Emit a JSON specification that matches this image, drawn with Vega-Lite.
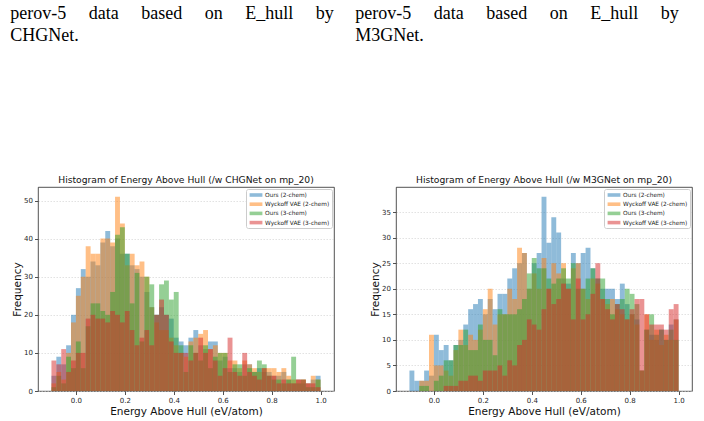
{
  "$schema": "https://vega.github.io/schema/vega-lite/v6.json",
  "background": "white",
  "padding": {"left": 10, "top": 5, "right": 0, "bottom": 0},
  "spacing": 20,
  "config": {
    "font": "DejaVu Sans",
    "view": {"stroke": "#262626", "strokeWidth": 0.8},
    "axis": {
      "domain": false,
      "tickColor": "#262626",
      "tickSize": 3.5,
      "tickWidth": 0.8,
      "labelFontSize": 7,
      "labelColor": "#262626",
      "labelPadding": 2,
      "titleFontSize": 10.5,
      "titleFontWeight": "normal",
      "titleColor": "#111111"
    },
    "axisY": {"grid": true, "gridDash": [1.5, 1.5], "gridColor": "#cfcfcf", "gridWidth": 0.6, "titlePadding": 1},
    "axisX": {"grid": false, "titlePadding": 2.5},
    "title": {"fontSize": 9.2, "fontWeight": "normal", "color": "#111111", "offset": 2},
    "legend": {
      "orient": "top-right",
      "offset": 2,
      "fillColor": "white",
      "strokeColor": "#cccccc",
      "cornerRadius": 2,
      "padding": 2,
      "labelFontSize": 5.8,
      "labelColor": "#222222",
      "labelOffset": 5,
      "symbolType": "M-1.6,-0.45H1.6V0.45H-1.6Z",
      "symbolSize": 64,
      "symbolOffset": 4,
      "symbolOpacity": 0.5,
      "symbolStrokeWidth": 0,
      "rowPadding": 2.2
    }
  },
  "datasets": {
    "chgnet": [
      {"s":"Ours (2-chem)","a":-0.10,"b":-0.08,"n":4},{"s":"Wyckoff VAE (2-chem)","a":-0.10,"b":-0.08,"n":2},{"s":"Ours (3-chem)","a":-0.10,"b":-0.08,"n":1},{"s":"Wyckoff VAE (3-chem)","a":-0.10,"b":-0.08,"n":8},
      {"s":"Ours (2-chem)","a":-0.08,"b":-0.06,"n":9},{"s":"Wyckoff VAE (2-chem)","a":-0.08,"b":-0.06,"n":5},{"s":"Ours (3-chem)","a":-0.08,"b":-0.06,"n":4},{"s":"Wyckoff VAE (3-chem)","a":-0.08,"b":-0.06,"n":7},
      {"s":"Ours (2-chem)","a":-0.06,"b":-0.04,"n":7},{"s":"Wyckoff VAE (2-chem)","a":-0.06,"b":-0.04,"n":3},{"s":"Ours (3-chem)","a":-0.06,"b":-0.04,"n":2},{"s":"Wyckoff VAE (3-chem)","a":-0.06,"b":-0.04,"n":11},
      {"s":"Ours (2-chem)","a":-0.04,"b":-0.02,"n":12},{"s":"Wyckoff VAE (2-chem)","a":-0.04,"b":-0.02,"n":10},{"s":"Ours (3-chem)","a":-0.04,"b":-0.02,"n":9},{"s":"Wyckoff VAE (3-chem)","a":-0.04,"b":-0.02,"n":5},
      {"s":"Ours (2-chem)","a":-0.02,"b":0.00,"n":20},{"s":"Wyckoff VAE (2-chem)","a":-0.02,"b":0.00,"n":18},{"s":"Ours (3-chem)","a":-0.02,"b":0.00,"n":6},{"s":"Wyckoff VAE (3-chem)","a":-0.02,"b":0.00,"n":8},
      {"s":"Ours (2-chem)","a":0.00,"b":0.02,"n":27},{"s":"Wyckoff VAE (2-chem)","a":0.00,"b":0.02,"n":25},{"s":"Ours (3-chem)","a":0.00,"b":0.02,"n":13},{"s":"Wyckoff VAE (3-chem)","a":0.00,"b":0.02,"n":10},
      {"s":"Ours (2-chem)","a":0.02,"b":0.04,"n":32},{"s":"Wyckoff VAE (2-chem)","a":0.02,"b":0.04,"n":30},{"s":"Ours (3-chem)","a":0.02,"b":0.04,"n":6},{"s":"Wyckoff VAE (3-chem)","a":0.02,"b":0.04,"n":10},
      {"s":"Ours (2-chem)","a":0.04,"b":0.06,"n":30},{"s":"Wyckoff VAE (2-chem)","a":0.04,"b":0.06,"n":38},{"s":"Ours (3-chem)","a":0.04,"b":0.06,"n":17},{"s":"Wyckoff VAE (3-chem)","a":0.04,"b":0.06,"n":19},
      {"s":"Ours (2-chem)","a":0.06,"b":0.08,"n":34},{"s":"Wyckoff VAE (2-chem)","a":0.06,"b":0.08,"n":36},{"s":"Ours (3-chem)","a":0.06,"b":0.08,"n":23},{"s":"Wyckoff VAE (3-chem)","a":0.06,"b":0.08,"n":20},
      {"s":"Ours (2-chem)","a":0.08,"b":0.10,"n":33},{"s":"Wyckoff VAE (2-chem)","a":0.08,"b":0.10,"n":36},{"s":"Ours (3-chem)","a":0.08,"b":0.10,"n":23},{"s":"Wyckoff VAE (3-chem)","a":0.08,"b":0.10,"n":19},
      {"s":"Ours (2-chem)","a":0.10,"b":0.12,"n":39},{"s":"Wyckoff VAE (2-chem)","a":0.10,"b":0.12,"n":40},{"s":"Ours (3-chem)","a":0.10,"b":0.12,"n":21},{"s":"Wyckoff VAE (3-chem)","a":0.10,"b":0.12,"n":19},
      {"s":"Ours (2-chem)","a":0.12,"b":0.14,"n":42},{"s":"Wyckoff VAE (2-chem)","a":0.12,"b":0.14,"n":40},{"s":"Ours (3-chem)","a":0.12,"b":0.14,"n":20},{"s":"Wyckoff VAE (3-chem)","a":0.12,"b":0.14,"n":18},
      {"s":"Ours (2-chem)","a":0.14,"b":0.16,"n":38},{"s":"Wyckoff VAE (2-chem)","a":0.14,"b":0.16,"n":39},{"s":"Ours (3-chem)","a":0.14,"b":0.16,"n":26},{"s":"Wyckoff VAE (3-chem)","a":0.14,"b":0.16,"n":21},
      {"s":"Ours (2-chem)","a":0.16,"b":0.18,"n":40},{"s":"Wyckoff VAE (2-chem)","a":0.16,"b":0.18,"n":51},{"s":"Ours (3-chem)","a":0.16,"b":0.18,"n":41},{"s":"Wyckoff VAE (3-chem)","a":0.16,"b":0.18,"n":20},
      {"s":"Ours (2-chem)","a":0.18,"b":0.20,"n":36},{"s":"Wyckoff VAE (2-chem)","a":0.18,"b":0.20,"n":44},{"s":"Ours (3-chem)","a":0.18,"b":0.20,"n":43},{"s":"Wyckoff VAE (3-chem)","a":0.18,"b":0.20,"n":18},
      {"s":"Ours (2-chem)","a":0.20,"b":0.22,"n":36},{"s":"Wyckoff VAE (2-chem)","a":0.20,"b":0.22,"n":33},{"s":"Ours (3-chem)","a":0.20,"b":0.22,"n":36},{"s":"Wyckoff VAE (3-chem)","a":0.20,"b":0.22,"n":21},
      {"s":"Ours (2-chem)","a":0.22,"b":0.24,"n":33},{"s":"Wyckoff VAE (2-chem)","a":0.22,"b":0.24,"n":36},{"s":"Ours (3-chem)","a":0.22,"b":0.24,"n":23},{"s":"Wyckoff VAE (3-chem)","a":0.22,"b":0.24,"n":16},
      {"s":"Ours (2-chem)","a":0.24,"b":0.26,"n":32},{"s":"Wyckoff VAE (2-chem)","a":0.24,"b":0.26,"n":33},{"s":"Ours (3-chem)","a":0.24,"b":0.26,"n":31},{"s":"Wyckoff VAE (3-chem)","a":0.24,"b":0.26,"n":12},
      {"s":"Ours (2-chem)","a":0.26,"b":0.28,"n":30},{"s":"Wyckoff VAE (2-chem)","a":0.26,"b":0.28,"n":34},{"s":"Ours (3-chem)","a":0.26,"b":0.28,"n":13},{"s":"Wyckoff VAE (3-chem)","a":0.26,"b":0.28,"n":14},
      {"s":"Ours (2-chem)","a":0.28,"b":0.30,"n":26},{"s":"Wyckoff VAE (2-chem)","a":0.28,"b":0.30,"n":30},{"s":"Ours (3-chem)","a":0.28,"b":0.30,"n":30},{"s":"Wyckoff VAE (3-chem)","a":0.28,"b":0.30,"n":16},
      {"s":"Ours (2-chem)","a":0.30,"b":0.32,"n":22},{"s":"Wyckoff VAE (2-chem)","a":0.30,"b":0.32,"n":22},{"s":"Ours (3-chem)","a":0.30,"b":0.32,"n":28},{"s":"Wyckoff VAE (3-chem)","a":0.30,"b":0.32,"n":12},
      {"s":"Ours (2-chem)","a":0.32,"b":0.34,"n":20},{"s":"Wyckoff VAE (2-chem)","a":0.32,"b":0.34,"n":18},{"s":"Ours (3-chem)","a":0.32,"b":0.34,"n":20},{"s":"Wyckoff VAE (3-chem)","a":0.32,"b":0.34,"n":20},
      {"s":"Ours (2-chem)","a":0.34,"b":0.36,"n":22},{"s":"Wyckoff VAE (2-chem)","a":0.34,"b":0.36,"n":16},{"s":"Ours (3-chem)","a":0.34,"b":0.36,"n":28},{"s":"Wyckoff VAE (3-chem)","a":0.34,"b":0.36,"n":24},
      {"s":"Ours (2-chem)","a":0.36,"b":0.38,"n":20},{"s":"Wyckoff VAE (2-chem)","a":0.36,"b":0.38,"n":16},{"s":"Ours (3-chem)","a":0.36,"b":0.38,"n":29},{"s":"Wyckoff VAE (3-chem)","a":0.36,"b":0.38,"n":20},
      {"s":"Ours (2-chem)","a":0.38,"b":0.40,"n":19},{"s":"Wyckoff VAE (2-chem)","a":0.38,"b":0.40,"n":14},{"s":"Ours (3-chem)","a":0.38,"b":0.40,"n":24},{"s":"Wyckoff VAE (3-chem)","a":0.38,"b":0.40,"n":13},
      {"s":"Ours (2-chem)","a":0.40,"b":0.42,"n":14},{"s":"Wyckoff VAE (2-chem)","a":0.40,"b":0.42,"n":12},{"s":"Ours (3-chem)","a":0.40,"b":0.42,"n":26},{"s":"Wyckoff VAE (3-chem)","a":0.40,"b":0.42,"n":10},
      {"s":"Ours (2-chem)","a":0.42,"b":0.44,"n":13},{"s":"Wyckoff VAE (2-chem)","a":0.42,"b":0.44,"n":10},{"s":"Ours (3-chem)","a":0.42,"b":0.44,"n":12},{"s":"Wyckoff VAE (3-chem)","a":0.42,"b":0.44,"n":10},
      {"s":"Ours (2-chem)","a":0.44,"b":0.46,"n":12},{"s":"Wyckoff VAE (2-chem)","a":0.44,"b":0.46,"n":9},{"s":"Ours (3-chem)","a":0.44,"b":0.46,"n":5},{"s":"Wyckoff VAE (3-chem)","a":0.44,"b":0.46,"n":10},
      {"s":"Ours (2-chem)","a":0.46,"b":0.48,"n":14},{"s":"Wyckoff VAE (2-chem)","a":0.46,"b":0.48,"n":13},{"s":"Ours (3-chem)","a":0.46,"b":0.48,"n":12},{"s":"Wyckoff VAE (3-chem)","a":0.46,"b":0.48,"n":8},
      {"s":"Ours (2-chem)","a":0.48,"b":0.50,"n":16},{"s":"Wyckoff VAE (2-chem)","a":0.48,"b":0.50,"n":14},{"s":"Ours (3-chem)","a":0.48,"b":0.50,"n":10},{"s":"Wyckoff VAE (3-chem)","a":0.48,"b":0.50,"n":10},
      {"s":"Ours (2-chem)","a":0.50,"b":0.52,"n":12},{"s":"Wyckoff VAE (2-chem)","a":0.50,"b":0.52,"n":15},{"s":"Ours (3-chem)","a":0.50,"b":0.52,"n":8},{"s":"Wyckoff VAE (3-chem)","a":0.50,"b":0.52,"n":14},
      {"s":"Ours (2-chem)","a":0.52,"b":0.54,"n":11},{"s":"Wyckoff VAE (2-chem)","a":0.52,"b":0.54,"n":16},{"s":"Ours (3-chem)","a":0.52,"b":0.54,"n":12},{"s":"Wyckoff VAE (3-chem)","a":0.52,"b":0.54,"n":10},
      {"s":"Ours (2-chem)","a":0.54,"b":0.56,"n":13},{"s":"Wyckoff VAE (2-chem)","a":0.54,"b":0.56,"n":11},{"s":"Ours (3-chem)","a":0.54,"b":0.56,"n":6},{"s":"Wyckoff VAE (3-chem)","a":0.54,"b":0.56,"n":11},
      {"s":"Ours (2-chem)","a":0.56,"b":0.58,"n":13},{"s":"Wyckoff VAE (2-chem)","a":0.56,"b":0.58,"n":12},{"s":"Ours (3-chem)","a":0.56,"b":0.58,"n":9},{"s":"Wyckoff VAE (3-chem)","a":0.56,"b":0.58,"n":8},
      {"s":"Ours (2-chem)","a":0.58,"b":0.60,"n":8},{"s":"Wyckoff VAE (2-chem)","a":0.58,"b":0.60,"n":10},{"s":"Ours (3-chem)","a":0.58,"b":0.60,"n":10},{"s":"Wyckoff VAE (3-chem)","a":0.58,"b":0.60,"n":4},
      {"s":"Ours (2-chem)","a":0.60,"b":0.62,"n":9},{"s":"Wyckoff VAE (2-chem)","a":0.60,"b":0.62,"n":10},{"s":"Ours (3-chem)","a":0.60,"b":0.62,"n":10},{"s":"Wyckoff VAE (3-chem)","a":0.60,"b":0.62,"n":6},
      {"s":"Ours (2-chem)","a":0.62,"b":0.64,"n":6},{"s":"Wyckoff VAE (2-chem)","a":0.62,"b":0.64,"n":8},{"s":"Ours (3-chem)","a":0.62,"b":0.64,"n":5},{"s":"Wyckoff VAE (3-chem)","a":0.62,"b":0.64,"n":14},
      {"s":"Ours (2-chem)","a":0.64,"b":0.66,"n":6},{"s":"Wyckoff VAE (2-chem)","a":0.64,"b":0.66,"n":8},{"s":"Ours (3-chem)","a":0.64,"b":0.66,"n":7},{"s":"Wyckoff VAE (3-chem)","a":0.64,"b":0.66,"n":5},
      {"s":"Ours (2-chem)","a":0.66,"b":0.68,"n":5},{"s":"Wyckoff VAE (2-chem)","a":0.66,"b":0.68,"n":6},{"s":"Ours (3-chem)","a":0.66,"b":0.68,"n":7},{"s":"Wyckoff VAE (3-chem)","a":0.66,"b":0.68,"n":4},
      {"s":"Ours (2-chem)","a":0.68,"b":0.70,"n":7},{"s":"Wyckoff VAE (2-chem)","a":0.68,"b":0.70,"n":8},{"s":"Ours (3-chem)","a":0.68,"b":0.70,"n":4},{"s":"Wyckoff VAE (3-chem)","a":0.68,"b":0.70,"n":10},
      {"s":"Ours (2-chem)","a":0.70,"b":0.72,"n":7},{"s":"Wyckoff VAE (2-chem)","a":0.70,"b":0.72,"n":7},{"s":"Ours (3-chem)","a":0.70,"b":0.72,"n":6},{"s":"Wyckoff VAE (3-chem)","a":0.70,"b":0.72,"n":5},
      {"s":"Ours (2-chem)","a":0.72,"b":0.74,"n":5},{"s":"Wyckoff VAE (2-chem)","a":0.72,"b":0.74,"n":6},{"s":"Ours (3-chem)","a":0.72,"b":0.74,"n":5},{"s":"Wyckoff VAE (3-chem)","a":0.72,"b":0.74,"n":4},
      {"s":"Ours (2-chem)","a":0.74,"b":0.76,"n":6},{"s":"Wyckoff VAE (2-chem)","a":0.74,"b":0.76,"n":5},{"s":"Ours (3-chem)","a":0.74,"b":0.76,"n":8},{"s":"Wyckoff VAE (3-chem)","a":0.74,"b":0.76,"n":3},
      {"s":"Ours (2-chem)","a":0.76,"b":0.78,"n":5},{"s":"Wyckoff VAE (2-chem)","a":0.76,"b":0.78,"n":6},{"s":"Ours (3-chem)","a":0.76,"b":0.78,"n":7},{"s":"Wyckoff VAE (3-chem)","a":0.76,"b":0.78,"n":6},
      {"s":"Ours (2-chem)","a":0.78,"b":0.80,"n":5},{"s":"Wyckoff VAE (2-chem)","a":0.78,"b":0.80,"n":6},{"s":"Ours (3-chem)","a":0.78,"b":0.80,"n":4},{"s":"Wyckoff VAE (3-chem)","a":0.78,"b":0.80,"n":4},
      {"s":"Ours (2-chem)","a":0.80,"b":0.82,"n":4},{"s":"Wyckoff VAE (2-chem)","a":0.80,"b":0.82,"n":6},{"s":"Ours (3-chem)","a":0.80,"b":0.82,"n":3},{"s":"Wyckoff VAE (3-chem)","a":0.80,"b":0.82,"n":4},
      {"s":"Ours (2-chem)","a":0.82,"b":0.84,"n":4},{"s":"Wyckoff VAE (2-chem)","a":0.82,"b":0.84,"n":5},{"s":"Ours (3-chem)","a":0.82,"b":0.84,"n":3},{"s":"Wyckoff VAE (3-chem)","a":0.82,"b":0.84,"n":2},
      {"s":"Ours (2-chem)","a":0.84,"b":0.86,"n":5},{"s":"Wyckoff VAE (2-chem)","a":0.84,"b":0.86,"n":6},{"s":"Ours (3-chem)","a":0.84,"b":0.86,"n":2},{"s":"Wyckoff VAE (3-chem)","a":0.84,"b":0.86,"n":3},
      {"s":"Ours (2-chem)","a":0.86,"b":0.88,"n":3},{"s":"Wyckoff VAE (2-chem)","a":0.86,"b":0.88,"n":4},{"s":"Ours (3-chem)","a":0.86,"b":0.88,"n":3},{"s":"Wyckoff VAE (3-chem)","a":0.86,"b":0.88,"n":2},
      {"s":"Ours (2-chem)","a":0.88,"b":0.90,"n":2},{"s":"Wyckoff VAE (2-chem)","a":0.88,"b":0.90,"n":3},{"s":"Ours (3-chem)","a":0.88,"b":0.90,"n":9},{"s":"Wyckoff VAE (3-chem)","a":0.88,"b":0.90,"n":2},
      {"s":"Ours (2-chem)","a":0.90,"b":0.92,"n":3},{"s":"Wyckoff VAE (2-chem)","a":0.90,"b":0.92,"n":3},{"s":"Ours (3-chem)","a":0.90,"b":0.92,"n":2},{"s":"Wyckoff VAE (3-chem)","a":0.90,"b":0.92,"n":3},
      {"s":"Ours (2-chem)","a":0.92,"b":0.94,"n":2},{"s":"Wyckoff VAE (2-chem)","a":0.92,"b":0.94,"n":3},{"s":"Ours (3-chem)","a":0.92,"b":0.94,"n":3},{"s":"Wyckoff VAE (3-chem)","a":0.92,"b":0.94,"n":3},
      {"s":"Ours (2-chem)","a":0.94,"b":0.96,"n":2},{"s":"Wyckoff VAE (2-chem)","a":0.94,"b":0.96,"n":2},{"s":"Ours (3-chem)","a":0.94,"b":0.96,"n":1},{"s":"Wyckoff VAE (3-chem)","a":0.94,"b":0.96,"n":2},
      {"s":"Ours (2-chem)","a":0.96,"b":0.98,"n":3},{"s":"Wyckoff VAE (2-chem)","a":0.96,"b":0.98,"n":4},{"s":"Ours (3-chem)","a":0.96,"b":0.98,"n":1},{"s":"Wyckoff VAE (3-chem)","a":0.96,"b":0.98,"n":2},
      {"s":"Ours (2-chem)","a":0.98,"b":1.00,"n":4},{"s":"Wyckoff VAE (2-chem)","a":0.98,"b":1.00,"n":3},{"s":"Ours (3-chem)","a":0.98,"b":1.00,"n":3},{"s":"Wyckoff VAE (3-chem)","a":0.98,"b":1.00,"n":1}
    ],
    "m3gnet": [
      {"s":"Ours (2-chem)","a":-0.10,"b":-0.08,"n":4},{"s":"Wyckoff VAE (2-chem)","a":-0.10,"b":-0.08,"n":0},{"s":"Ours (3-chem)","a":-0.10,"b":-0.08,"n":0},{"s":"Wyckoff VAE (3-chem)","a":-0.10,"b":-0.08,"n":0},
      {"s":"Ours (2-chem)","a":-0.08,"b":-0.06,"n":2},{"s":"Wyckoff VAE (2-chem)","a":-0.08,"b":-0.06,"n":0},{"s":"Ours (3-chem)","a":-0.08,"b":-0.06,"n":0},{"s":"Wyckoff VAE (3-chem)","a":-0.08,"b":-0.06,"n":0},
      {"s":"Ours (2-chem)","a":-0.06,"b":-0.04,"n":2},{"s":"Wyckoff VAE (2-chem)","a":-0.06,"b":-0.04,"n":2},{"s":"Ours (3-chem)","a":-0.06,"b":-0.04,"n":1},{"s":"Wyckoff VAE (3-chem)","a":-0.06,"b":-0.04,"n":0},
      {"s":"Ours (2-chem)","a":-0.04,"b":-0.02,"n":4},{"s":"Wyckoff VAE (2-chem)","a":-0.04,"b":-0.02,"n":2},{"s":"Ours (3-chem)","a":-0.04,"b":-0.02,"n":1},{"s":"Wyckoff VAE (3-chem)","a":-0.04,"b":-0.02,"n":0},
      {"s":"Ours (2-chem)","a":-0.02,"b":0.00,"n":3},{"s":"Wyckoff VAE (2-chem)","a":-0.02,"b":0.00,"n":11},{"s":"Ours (3-chem)","a":-0.02,"b":0.00,"n":0},{"s":"Wyckoff VAE (3-chem)","a":-0.02,"b":0.00,"n":0},
      {"s":"Ours (2-chem)","a":0.00,"b":0.02,"n":11},{"s":"Wyckoff VAE (2-chem)","a":0.00,"b":0.02,"n":5},{"s":"Ours (3-chem)","a":0.00,"b":0.02,"n":2},{"s":"Wyckoff VAE (3-chem)","a":0.00,"b":0.02,"n":0},
      {"s":"Ours (2-chem)","a":0.02,"b":0.04,"n":8},{"s":"Wyckoff VAE (2-chem)","a":0.02,"b":0.04,"n":5},{"s":"Ours (3-chem)","a":0.02,"b":0.04,"n":3},{"s":"Wyckoff VAE (3-chem)","a":0.02,"b":0.04,"n":0},
      {"s":"Ours (2-chem)","a":0.04,"b":0.06,"n":9},{"s":"Wyckoff VAE (2-chem)","a":0.04,"b":0.06,"n":4},{"s":"Ours (3-chem)","a":0.04,"b":0.06,"n":6},{"s":"Wyckoff VAE (3-chem)","a":0.04,"b":0.06,"n":1},
      {"s":"Ours (2-chem)","a":0.06,"b":0.08,"n":6},{"s":"Wyckoff VAE (2-chem)","a":0.06,"b":0.08,"n":3},{"s":"Ours (3-chem)","a":0.06,"b":0.08,"n":6},{"s":"Wyckoff VAE (3-chem)","a":0.06,"b":0.08,"n":1},
      {"s":"Ours (2-chem)","a":0.08,"b":0.10,"n":9},{"s":"Wyckoff VAE (2-chem)","a":0.08,"b":0.10,"n":8},{"s":"Ours (3-chem)","a":0.08,"b":0.10,"n":9},{"s":"Wyckoff VAE (3-chem)","a":0.08,"b":0.10,"n":1},
      {"s":"Ours (2-chem)","a":0.10,"b":0.12,"n":10},{"s":"Wyckoff VAE (2-chem)","a":0.10,"b":0.12,"n":12},{"s":"Ours (3-chem)","a":0.10,"b":0.12,"n":9},{"s":"Wyckoff VAE (3-chem)","a":0.10,"b":0.12,"n":2},
      {"s":"Ours (2-chem)","a":0.12,"b":0.14,"n":13},{"s":"Wyckoff VAE (2-chem)","a":0.12,"b":0.14,"n":9},{"s":"Ours (3-chem)","a":0.12,"b":0.14,"n":12},{"s":"Wyckoff VAE (3-chem)","a":0.12,"b":0.14,"n":2},
      {"s":"Ours (2-chem)","a":0.14,"b":0.16,"n":16},{"s":"Wyckoff VAE (2-chem)","a":0.14,"b":0.16,"n":11},{"s":"Ours (3-chem)","a":0.14,"b":0.16,"n":8},{"s":"Wyckoff VAE (3-chem)","a":0.14,"b":0.16,"n":3},
      {"s":"Ours (2-chem)","a":0.16,"b":0.18,"n":17},{"s":"Wyckoff VAE (2-chem)","a":0.16,"b":0.18,"n":10},{"s":"Ours (3-chem)","a":0.16,"b":0.18,"n":8},{"s":"Wyckoff VAE (3-chem)","a":0.16,"b":0.18,"n":3},
      {"s":"Ours (2-chem)","a":0.18,"b":0.20,"n":18},{"s":"Wyckoff VAE (2-chem)","a":0.18,"b":0.20,"n":12},{"s":"Ours (3-chem)","a":0.18,"b":0.20,"n":13},{"s":"Wyckoff VAE (3-chem)","a":0.18,"b":0.20,"n":2},
      {"s":"Ours (2-chem)","a":0.20,"b":0.22,"n":15},{"s":"Wyckoff VAE (2-chem)","a":0.20,"b":0.22,"n":16},{"s":"Ours (3-chem)","a":0.20,"b":0.22,"n":10},{"s":"Wyckoff VAE (3-chem)","a":0.20,"b":0.22,"n":4},
      {"s":"Ours (2-chem)","a":0.22,"b":0.24,"n":18},{"s":"Wyckoff VAE (2-chem)","a":0.22,"b":0.24,"n":20},{"s":"Ours (3-chem)","a":0.22,"b":0.24,"n":10},{"s":"Wyckoff VAE (3-chem)","a":0.22,"b":0.24,"n":4},
      {"s":"Ours (2-chem)","a":0.24,"b":0.26,"n":16},{"s":"Wyckoff VAE (2-chem)","a":0.24,"b":0.26,"n":13},{"s":"Ours (3-chem)","a":0.24,"b":0.26,"n":7},{"s":"Wyckoff VAE (3-chem)","a":0.24,"b":0.26,"n":4},
      {"s":"Ours (2-chem)","a":0.26,"b":0.28,"n":19},{"s":"Wyckoff VAE (2-chem)","a":0.26,"b":0.28,"n":15},{"s":"Ours (3-chem)","a":0.26,"b":0.28,"n":16},{"s":"Wyckoff VAE (3-chem)","a":0.26,"b":0.28,"n":5},
      {"s":"Ours (2-chem)","a":0.28,"b":0.30,"n":19},{"s":"Wyckoff VAE (2-chem)","a":0.28,"b":0.30,"n":15},{"s":"Ours (3-chem)","a":0.28,"b":0.30,"n":15},{"s":"Wyckoff VAE (3-chem)","a":0.28,"b":0.30,"n":3},
      {"s":"Ours (2-chem)","a":0.30,"b":0.32,"n":22},{"s":"Wyckoff VAE (2-chem)","a":0.30,"b":0.32,"n":20},{"s":"Ours (3-chem)","a":0.30,"b":0.32,"n":15},{"s":"Wyckoff VAE (3-chem)","a":0.30,"b":0.32,"n":6},
      {"s":"Ours (2-chem)","a":0.32,"b":0.34,"n":24},{"s":"Wyckoff VAE (2-chem)","a":0.32,"b":0.34,"n":18},{"s":"Ours (3-chem)","a":0.32,"b":0.34,"n":15},{"s":"Wyckoff VAE (3-chem)","a":0.32,"b":0.34,"n":5},
      {"s":"Ours (2-chem)","a":0.34,"b":0.36,"n":25},{"s":"Wyckoff VAE (2-chem)","a":0.34,"b":0.36,"n":28},{"s":"Ours (3-chem)","a":0.34,"b":0.36,"n":16},{"s":"Wyckoff VAE (3-chem)","a":0.34,"b":0.36,"n":9},
      {"s":"Ours (2-chem)","a":0.36,"b":0.38,"n":27},{"s":"Wyckoff VAE (2-chem)","a":0.36,"b":0.38,"n":27},{"s":"Ours (3-chem)","a":0.36,"b":0.38,"n":18},{"s":"Wyckoff VAE (3-chem)","a":0.36,"b":0.38,"n":10},
      {"s":"Ours (2-chem)","a":0.38,"b":0.40,"n":20},{"s":"Wyckoff VAE (2-chem)","a":0.38,"b":0.40,"n":20},{"s":"Ours (3-chem)","a":0.38,"b":0.40,"n":23},{"s":"Wyckoff VAE (3-chem)","a":0.38,"b":0.40,"n":14},
      {"s":"Ours (2-chem)","a":0.40,"b":0.42,"n":25},{"s":"Wyckoff VAE (2-chem)","a":0.40,"b":0.42,"n":23},{"s":"Ours (3-chem)","a":0.40,"b":0.42,"n":26},{"s":"Wyckoff VAE (3-chem)","a":0.40,"b":0.42,"n":13},
      {"s":"Ours (2-chem)","a":0.42,"b":0.44,"n":27},{"s":"Wyckoff VAE (2-chem)","a":0.42,"b":0.44,"n":20},{"s":"Ours (3-chem)","a":0.42,"b":0.44,"n":24},{"s":"Wyckoff VAE (3-chem)","a":0.42,"b":0.44,"n":12},
      {"s":"Ours (2-chem)","a":0.44,"b":0.46,"n":38},{"s":"Wyckoff VAE (2-chem)","a":0.44,"b":0.46,"n":26},{"s":"Ours (3-chem)","a":0.44,"b":0.46,"n":24},{"s":"Wyckoff VAE (3-chem)","a":0.44,"b":0.46,"n":16},
      {"s":"Ours (2-chem)","a":0.46,"b":0.48,"n":29},{"s":"Wyckoff VAE (2-chem)","a":0.46,"b":0.48,"n":20},{"s":"Ours (3-chem)","a":0.46,"b":0.48,"n":22},{"s":"Wyckoff VAE (3-chem)","a":0.46,"b":0.48,"n":20},
      {"s":"Ours (2-chem)","a":0.48,"b":0.50,"n":34},{"s":"Wyckoff VAE (2-chem)","a":0.48,"b":0.50,"n":25},{"s":"Ours (3-chem)","a":0.48,"b":0.50,"n":21},{"s":"Wyckoff VAE (3-chem)","a":0.48,"b":0.50,"n":17},
      {"s":"Ours (2-chem)","a":0.50,"b":0.52,"n":31},{"s":"Wyckoff VAE (2-chem)","a":0.50,"b":0.52,"n":23},{"s":"Ours (3-chem)","a":0.50,"b":0.52,"n":22},{"s":"Wyckoff VAE (3-chem)","a":0.50,"b":0.52,"n":18},
      {"s":"Ours (2-chem)","a":0.52,"b":0.54,"n":22},{"s":"Wyckoff VAE (2-chem)","a":0.52,"b":0.54,"n":25},{"s":"Ours (3-chem)","a":0.52,"b":0.54,"n":24},{"s":"Wyckoff VAE (3-chem)","a":0.52,"b":0.54,"n":21},
      {"s":"Ours (2-chem)","a":0.54,"b":0.56,"n":21},{"s":"Wyckoff VAE (2-chem)","a":0.54,"b":0.56,"n":20},{"s":"Ours (3-chem)","a":0.54,"b":0.56,"n":22},{"s":"Wyckoff VAE (3-chem)","a":0.54,"b":0.56,"n":20},
      {"s":"Ours (2-chem)","a":0.56,"b":0.58,"n":27},{"s":"Wyckoff VAE (2-chem)","a":0.56,"b":0.58,"n":24},{"s":"Ours (3-chem)","a":0.56,"b":0.58,"n":25},{"s":"Wyckoff VAE (3-chem)","a":0.56,"b":0.58,"n":14},
      {"s":"Ours (2-chem)","a":0.58,"b":0.60,"n":25},{"s":"Wyckoff VAE (2-chem)","a":0.58,"b":0.60,"n":25},{"s":"Ours (3-chem)","a":0.58,"b":0.60,"n":20},{"s":"Wyckoff VAE (3-chem)","a":0.58,"b":0.60,"n":22},
      {"s":"Ours (2-chem)","a":0.60,"b":0.62,"n":27},{"s":"Wyckoff VAE (2-chem)","a":0.60,"b":0.62,"n":20},{"s":"Ours (3-chem)","a":0.60,"b":0.62,"n":20},{"s":"Wyckoff VAE (3-chem)","a":0.60,"b":0.62,"n":14},
      {"s":"Ours (2-chem)","a":0.62,"b":0.64,"n":28},{"s":"Wyckoff VAE (2-chem)","a":0.62,"b":0.64,"n":18},{"s":"Ours (3-chem)","a":0.62,"b":0.64,"n":22},{"s":"Wyckoff VAE (3-chem)","a":0.62,"b":0.64,"n":15},
      {"s":"Ours (2-chem)","a":0.64,"b":0.66,"n":24},{"s":"Wyckoff VAE (2-chem)","a":0.64,"b":0.66,"n":22},{"s":"Ours (3-chem)","a":0.64,"b":0.66,"n":24},{"s":"Wyckoff VAE (3-chem)","a":0.64,"b":0.66,"n":19},
      {"s":"Ours (2-chem)","a":0.66,"b":0.68,"n":22},{"s":"Wyckoff VAE (2-chem)","a":0.66,"b":0.68,"n":21},{"s":"Ours (3-chem)","a":0.66,"b":0.68,"n":22},{"s":"Wyckoff VAE (3-chem)","a":0.66,"b":0.68,"n":25},
      {"s":"Ours (2-chem)","a":0.68,"b":0.70,"n":20},{"s":"Wyckoff VAE (2-chem)","a":0.68,"b":0.70,"n":18},{"s":"Ours (3-chem)","a":0.68,"b":0.70,"n":22},{"s":"Wyckoff VAE (3-chem)","a":0.68,"b":0.70,"n":18},
      {"s":"Ours (2-chem)","a":0.70,"b":0.72,"n":20},{"s":"Wyckoff VAE (2-chem)","a":0.70,"b":0.72,"n":17},{"s":"Ours (3-chem)","a":0.70,"b":0.72,"n":18},{"s":"Wyckoff VAE (3-chem)","a":0.70,"b":0.72,"n":16},
      {"s":"Ours (2-chem)","a":0.72,"b":0.74,"n":20},{"s":"Wyckoff VAE (2-chem)","a":0.72,"b":0.74,"n":18},{"s":"Ours (3-chem)","a":0.72,"b":0.74,"n":15},{"s":"Wyckoff VAE (3-chem)","a":0.72,"b":0.74,"n":14},
      {"s":"Ours (2-chem)","a":0.74,"b":0.76,"n":18},{"s":"Wyckoff VAE (2-chem)","a":0.74,"b":0.76,"n":16},{"s":"Ours (3-chem)","a":0.74,"b":0.76,"n":17},{"s":"Wyckoff VAE (3-chem)","a":0.74,"b":0.76,"n":17},
      {"s":"Ours (2-chem)","a":0.76,"b":0.78,"n":21},{"s":"Wyckoff VAE (2-chem)","a":0.76,"b":0.78,"n":15},{"s":"Ours (3-chem)","a":0.76,"b":0.78,"n":18},{"s":"Wyckoff VAE (3-chem)","a":0.76,"b":0.78,"n":16},
      {"s":"Ours (2-chem)","a":0.78,"b":0.80,"n":17},{"s":"Wyckoff VAE (2-chem)","a":0.78,"b":0.80,"n":14},{"s":"Ours (3-chem)","a":0.78,"b":0.80,"n":20},{"s":"Wyckoff VAE (3-chem)","a":0.78,"b":0.80,"n":14},
      {"s":"Ours (2-chem)","a":0.80,"b":0.82,"n":15},{"s":"Wyckoff VAE (2-chem)","a":0.80,"b":0.82,"n":15},{"s":"Ours (3-chem)","a":0.80,"b":0.82,"n":19},{"s":"Wyckoff VAE (3-chem)","a":0.80,"b":0.82,"n":16},
      {"s":"Ours (2-chem)","a":0.82,"b":0.84,"n":14},{"s":"Wyckoff VAE (2-chem)","a":0.82,"b":0.84,"n":13},{"s":"Ours (3-chem)","a":0.82,"b":0.84,"n":17},{"s":"Wyckoff VAE (3-chem)","a":0.82,"b":0.84,"n":18},
      {"s":"Ours (2-chem)","a":0.84,"b":0.86,"n":4},{"s":"Wyckoff VAE (2-chem)","a":0.84,"b":0.86,"n":4},{"s":"Ours (3-chem)","a":0.84,"b":0.86,"n":4},{"s":"Wyckoff VAE (3-chem)","a":0.84,"b":0.86,"n":18},
      {"s":"Ours (2-chem)","a":0.86,"b":0.88,"n":12},{"s":"Wyckoff VAE (2-chem)","a":0.86,"b":0.88,"n":15},{"s":"Ours (3-chem)","a":0.86,"b":0.88,"n":12},{"s":"Wyckoff VAE (3-chem)","a":0.86,"b":0.88,"n":15},
      {"s":"Ours (2-chem)","a":0.88,"b":0.90,"n":11},{"s":"Wyckoff VAE (2-chem)","a":0.88,"b":0.90,"n":10},{"s":"Ours (3-chem)","a":0.88,"b":0.90,"n":15},{"s":"Wyckoff VAE (3-chem)","a":0.88,"b":0.90,"n":13},
      {"s":"Ours (2-chem)","a":0.90,"b":0.92,"n":10},{"s":"Wyckoff VAE (2-chem)","a":0.90,"b":0.92,"n":12},{"s":"Ours (3-chem)","a":0.90,"b":0.92,"n":11},{"s":"Wyckoff VAE (3-chem)","a":0.90,"b":0.92,"n":13},
      {"s":"Ours (2-chem)","a":0.92,"b":0.94,"n":12},{"s":"Wyckoff VAE (2-chem)","a":0.92,"b":0.94,"n":9},{"s":"Ours (3-chem)","a":0.92,"b":0.94,"n":12},{"s":"Wyckoff VAE (3-chem)","a":0.92,"b":0.94,"n":13},
      {"s":"Ours (2-chem)","a":0.94,"b":0.96,"n":10},{"s":"Wyckoff VAE (2-chem)","a":0.94,"b":0.96,"n":11},{"s":"Ours (3-chem)","a":0.94,"b":0.96,"n":10},{"s":"Wyckoff VAE (3-chem)","a":0.94,"b":0.96,"n":12},
      {"s":"Ours (2-chem)","a":0.96,"b":0.98,"n":13},{"s":"Wyckoff VAE (2-chem)","a":0.96,"b":0.98,"n":10},{"s":"Ours (3-chem)","a":0.96,"b":0.98,"n":12},{"s":"Wyckoff VAE (3-chem)","a":0.96,"b":0.98,"n":16},
      {"s":"Ours (2-chem)","a":0.98,"b":1.00,"n":14},{"s":"Wyckoff VAE (2-chem)","a":0.98,"b":1.00,"n":14},{"s":"Ours (3-chem)","a":0.98,"b":1.00,"n":10},{"s":"Wyckoff VAE (3-chem)","a":0.98,"b":1.00,"n":17}
    ]
  },
  "hconcat": [
    {
      "title": {
        "text": ["perov-5\u00a0\u00a0\u00a0\u00a0\u00a0data\u00a0\u00a0\u00a0\u00a0\u00a0based\u00a0\u00a0\u00a0\u00a0\u00a0on\u00a0\u00a0\u00a0\u00a0\u00a0E_hull\u00a0\u00a0\u00a0\u00a0\u00a0by", "CHGNet."],
        "anchor": "start", "font": "Liberation Serif", "fontSize": 18, "fontWeight": "normal",
        "color": "#000000", "lineHeight": 22, "offset": 130, "dx": -2
      },
      "resolve": {"legend": {"color": "independent"}},
      "vconcat": [
        {
          "width": 296, "height": 204,
          "title": "Histogram of Energy Above Hull (/w CHGNet on mp_20)",
          "data": {"name": "chgnet"},
          "mark": {"type": "bar", "opacity": 0.5},
          "encoding": {
            "x": {"field": "a", "type": "quantitative",
                  "scale": {"domain": [-0.155, 1.055], "nice": false, "zero": false},
                  "axis": {"values": [0, 0.2, 0.4, 0.6, 0.8, 1.0], "format": ".1f", "title": "Energy Above Hull (eV/atom)"}},
            "x2": {"field": "b"},
            "y": {"field": "n", "type": "quantitative", "stack": null,
                  "scale": {"domain": [0, 53.55], "nice": false},
                  "axis": {"values": [0, 10, 20, 30, 40, 50], "title": "Frequency"}},
            "y2": {"datum": 0},
            "color": {"field": "s", "type": "nominal",
                      "scale": {"domain": ["Ours (2-chem)", "Wyckoff VAE (2-chem)", "Ours (3-chem)", "Wyckoff VAE (3-chem)"],
                                "range": ["#1f77b4", "#ff7f0e", "#2ca02c", "#d62728"]},
                      "legend": {"title": null, "orient": "top-right"}}
          }
        }
      ]
    },
    {
      "title": {
        "text": ["perov-5\u00a0\u00a0\u00a0\u00a0\u00a0data\u00a0\u00a0\u00a0\u00a0\u00a0based\u00a0\u00a0\u00a0\u00a0\u00a0on\u00a0\u00a0\u00a0\u00a0\u00a0E_hull\u00a0\u00a0\u00a0\u00a0\u00a0by", "M3GNet."],
        "anchor": "start", "font": "Liberation Serif", "fontSize": 18, "fontWeight": "normal",
        "color": "#000000", "lineHeight": 22, "offset": 130, "dx": -15
      },
      "resolve": {"legend": {"color": "independent"}},
      "vconcat": [
        {
          "width": 296, "height": 204,
          "title": "Histogram of Energy Above Hull (/w M3GNet on mp_20)",
          "data": {"name": "m3gnet"},
          "mark": {"type": "bar", "opacity": 0.5},
          "encoding": {
            "x": {"field": "a", "type": "quantitative",
                  "scale": {"domain": [-0.155, 1.055], "nice": false, "zero": false},
                  "axis": {"values": [0, 0.2, 0.4, 0.6, 0.8, 1.0], "format": ".1f", "title": "Energy Above Hull (eV/atom)"}},
            "x2": {"field": "b"},
            "y": {"field": "n", "type": "quantitative", "stack": null,
                  "scale": {"domain": [0, 39.9], "nice": false},
                  "axis": {"values": [0, 5, 10, 15, 20, 25, 30, 35], "title": "Frequency"}},
            "y2": {"datum": 0},
            "color": {"field": "s", "type": "nominal",
                      "scale": {"domain": ["Ours (2-chem)", "Wyckoff VAE (2-chem)", "Ours (3-chem)", "Wyckoff VAE (3-chem)"],
                                "range": ["#1f77b4", "#ff7f0e", "#2ca02c", "#d62728"]},
                      "legend": {"title": null, "orient": "top-right"}}
          }
        }
      ]
    }
  ],
  "resolve": {"scale": {"color": "independent"}, "legend": {"color": "independent"}}
}
